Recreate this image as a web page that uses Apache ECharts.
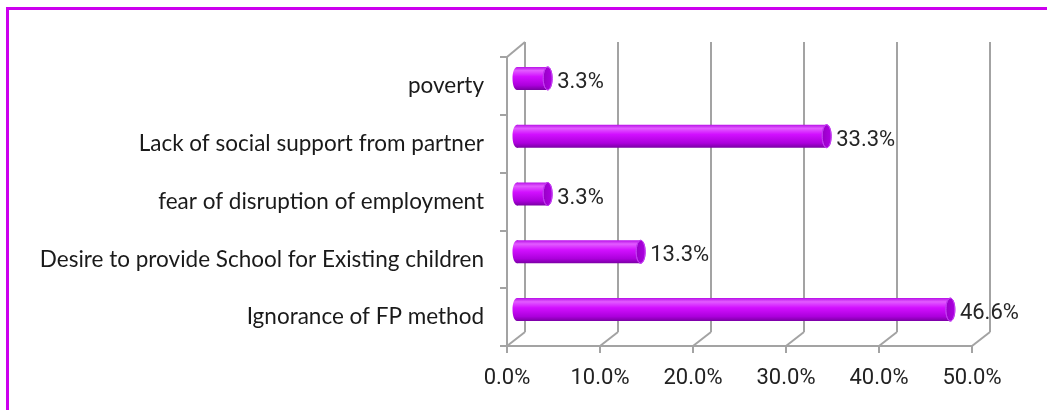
<!DOCTYPE html>
<html>
<head>
<meta charset="utf-8">
<script src="https://cdn.jsdelivr.net/npm/echarts@6/dist/echarts.min.js"></script>
<style>
html,body{margin:0;padding:0;background:#fff;overflow:hidden;}
#wrap{position:relative;width:1047px;height:410px;}
#frame{position:absolute;left:6px;top:7px;width:1060px;height:420px;border-top:3px solid #CC00EE;border-left:3px solid #CC00EE;box-sizing:border-box;}
#chart{position:absolute;left:0;top:0;width:1047px;height:410px;}
</style>
</head>
<body>
<div id="wrap"><div id="frame"></div><div id="chart"></div></div>
<script>
// ---- data ----
const categories = ['poverty', 'Lack of social support from partner', 'fear of disruption of employment', 'Desire to provide School for Existing children', 'Ignorance of FP method'];
const values = [3.3, 33.3, 3.3, 13.3, 46.6];
const xTicks = [0, 10, 20, 30, 40, 50];

// ---- layout ----
const FRONT = {left: 507, top: 57, width: 465, height: 289};
const BACK = {left: 525, top: 42, width: 465, height: 290};
const MID = {left: 517, top: 49.5, width: 465, height: 289};
const GRID_COLOR = '#A3A3A3';
const NUM_FONT = 'Roboto';

const chart = echarts.init(document.getElementById('chart'), null, {renderer: 'canvas'});

const xMin = xTicks[0], xMax = xTicks[xTicks.length - 1], xInt = xTicks[1] - xTicks[0];

function bar(params, api) {
  const idx = api.value(1);
  const v = api.value(0);
  const s = api.coord([0, idx]);
  const e = api.coord([v, idx]);
  const h = 23, rx = 4.5;
  const grad = new echarts.graphic.LinearGradient(0, 0, 0, 1, [
    {offset: 0, color: '#B810E8'},
    {offset: 0.16, color: '#E25CFF'},
    {offset: 0.42, color: '#D210FF'},
    {offset: 0.8, color: '#AC00DC'},
    {offset: 1, color: '#7A00A4'}
  ]);
  const capGrad = new echarts.graphic.LinearGradient(0, 0, 1, 0, [
    {offset: 0, color: '#9600C4'},
    {offset: 1, color: '#B000E4'}
  ]);
  return {
    type: 'group',
    children: [
      {type: 'ellipse', shape: {cx: s[0], cy: s[1], rx: rx, ry: h / 2}, style: {fill: grad}},
      {type: 'rect', shape: {x: s[0], y: s[1] - h / 2, width: e[0] - s[0], height: h}, style: {fill: grad}},
      {type: 'ellipse', shape: {cx: e[0], cy: e[1], rx: rx, ry: h / 2}, style: {fill: capGrad, stroke: '#C23CF0', lineWidth: 1}},
      {type: 'text', x: e[0] + rx + 5, y: e[1] + 4,
        style: {text: v.toFixed(1) + '%', fill: '#262626', font: '22px ' + NUM_FONT, verticalAlign: 'middle', align: 'left'}}
    ]
  };
}

const option = {
  animation: false,
  backgroundColor: 'transparent',
  grid: [
    {left: BACK.left, top: BACK.top, width: BACK.width, height: BACK.height},
    {left: FRONT.left, top: FRONT.top, width: FRONT.width, height: FRONT.height},
    {left: MID.left, top: MID.top, width: MID.width, height: MID.height}
  ],
  xAxis: [
    {gridIndex: 0, type: 'value', min: xMin, max: xMax, interval: xInt,
      axisLine: {show: false}, axisTick: {show: false}, axisLabel: {show: false},
      splitLine: {show: true, lineStyle: {color: GRID_COLOR, width: 2}}},
    {gridIndex: 1, type: 'value', min: xMin, max: xMax, interval: xInt,
      axisLine: {show: true, lineStyle: {color: GRID_COLOR, width: 2}},
      axisTick: {show: true, length: 7, lineStyle: {color: GRID_COLOR, width: 2}},
      axisLabel: {show: true, margin: 21, color: '#222', fontFamily: NUM_FONT, fontSize: 22,
        formatter: v => v.toFixed(1) + '%'},
      splitLine: {show: false}},
    {gridIndex: 2, type: 'value', min: xMin, max: xMax, interval: xInt, show: false}
  ],
  yAxis: [
    {gridIndex: 0, type: 'category', data: categories, inverse: true, show: false},
    {gridIndex: 1, type: 'category', data: categories, inverse: true,
      axisLine: {show: true, lineStyle: {color: GRID_COLOR, width: 2}},
      axisTick: {show: true, length: 7, lineStyle: {color: GRID_COLOR, width: 2}},
      axisLabel: {show: true, margin: 23, color: '#1a1a1a', fontFamily: 'Lato', fontSize: 22.5}},
    {gridIndex: 2, type: 'category', data: categories, inverse: true, show: false}
  ],
  series: [
    {type: 'custom', xAxisIndex: 2, yAxisIndex: 2, renderItem: bar, clip: false, z: 5,
      data: values.map((v, i) => [v, i])}
  ]
};
chart.setOption(option);

// depth lines joining the front axes to the back wall
const depth = [];
const fb = FRONT.top + FRONT.height, bb = BACK.top + BACK.height;
xTicks.forEach(t => {
  const fx = chart.convertToPixel({xAxisIndex: 1}, t);
  const bx = chart.convertToPixel({xAxisIndex: 0}, t);
  depth.push({type: 'line', shape: {x1: fx, y1: fb, x2: bx, y2: bb}, style: {stroke: GRID_COLOR, lineWidth: 2}});
});
const fx0 = chart.convertToPixel({xAxisIndex: 1}, xMin);
const bx0 = chart.convertToPixel({xAxisIndex: 0}, xMin);
depth.push({type: 'line', shape: {x1: fx0, y1: FRONT.top, x2: bx0, y2: BACK.top}, style: {stroke: GRID_COLOR, lineWidth: 2}});
chart.setOption({graphic: depth});
</script>
</body>
</html>
